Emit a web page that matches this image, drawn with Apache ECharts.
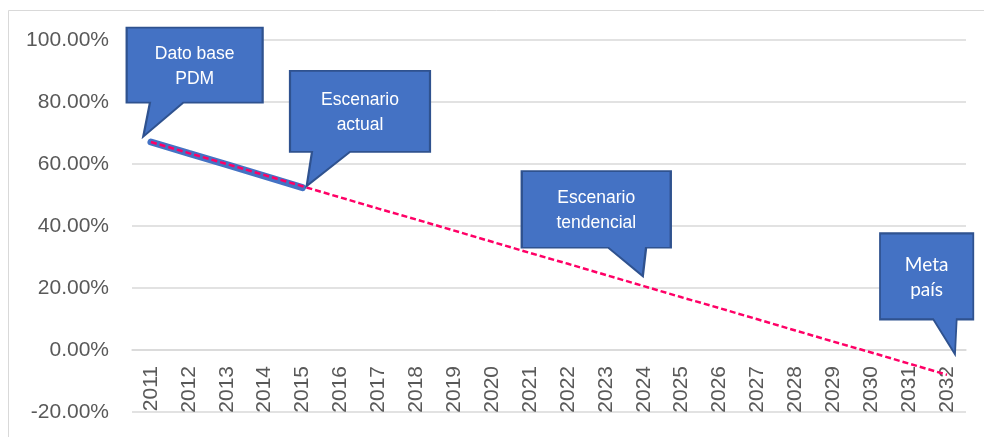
<!DOCTYPE html>
<html>
<head>
<meta charset="utf-8">
<script src="https://cdn.jsdelivr.net/npm/echarts@6/dist/echarts.min.js"></script>
<style>html,body{margin:0;padding:0;background:#fff}#c{width:984px;height:437px}</style>
</head>
<body>
<div id="c"></div>
<script>
const years = ['2011','2012','2013','2014','2015','2016','2017','2018','2019','2020','2021','2022','2023','2024','2025','2026','2027','2028','2029','2030','2031','2032'];
const actualValues = [67.1, 63.4, 59.8, 56.1, 52.4];
const trendValues = [67.1, 63.5, 60.0, 56.4, 52.8, 49.2, 45.6, 42.1, 38.5, 34.9, 31.3, 27.8, 24.2, 20.6, 17.0, 13.5, 9.9, 6.3, 2.7, -0.8, -4.4, -8.0];
const yTicks = {min: -20, max: 100, interval: 20};
const callouts = [
  {text: 'Dato base\nPDM', year: '2011', value: 67.1},
  {text: 'Escenario\nactual', year: '2015', value: 52.4},
  {text: 'Escenario\ntendencial', year: '2024', value: 20.6},
  {text: 'Meta\npaís', year: '2032', value: 0}
];

// callout shapes (relative to the tail tip) and placement styling
const calloutStyles = [
  {path: 'path://M-16.6,-109L119.4,-109L119.4,-34L40,-34L0,0L6.7,-34L-16.6,-34Z', size: [136,109], offset: [43.7,-59.9], labelOffset: [0,-15], font: 'Liberation Sans', fs: 17.5},
  {path: 'path://M-16.7,-115L123.3,-115L123.3,-34L43.3,-34L0,0L5.3,-34L-16.7,-34Z', size: [140,115], offset: [57.4,-59.1], labelOffset: [0,-16], font: 'Liberation Sans', fs: 17.5},
  {path: 'path://M-121,-105L28,-105L28,-28.4L3.3,-28.4L0,0L-34.4,-28.4L-121,-28.4Z', size: [149,105], offset: [-47.5,-62.5], labelOffset: [0,-13], font: 'Liberation Sans', fs: 17.5},
  {path: 'path://M-75,-121L18.3,-121L18.3,-35L1.7,-35L0,0L-21.7,-35L-75,-35Z', size: [93.3,121], offset: [-20.4,-56.2], labelOffset: [0,-16], font: 'Lato', fs: 19}
];

const chart = echarts.init(document.getElementById('c'), null, {renderer: 'canvas'});
chart.setOption({
  animation: false,
  backgroundColor: '#fff',
  graphic: [{
    type: 'rect', silent: true, z: -10,
    shape: {x: 8.5, y: 10.5, width: 1200, height: 600},
    style: {fill: 'none', stroke: '#D9D9D9', lineWidth: 1}
  }],
  grid: {left: 132, right: 18, top: 40, bottom: 25, containLabel: false, outerBoundsMode: 'none'},
  xAxis: {
    type: 'category',
    data: years,
    boundaryGap: true,
    position: 'bottom',
    offset: 0,
    axisLine: {onZero: false, lineStyle: {color: '#D9D9D9', width: 1.5}},
    axisTick: {show: false},
    axisLabel: {rotate: 90, margin: 16, color: '#595959', fontFamily: 'Liberation Sans', fontSize: 21, interval: 0},
    splitLine: {show: false}
  },
  yAxis: {
    type: 'value',
    min: yTicks.min, max: yTicks.max, interval: yTicks.interval,
    axisLine: {show: false},
    axisTick: {show: false},
    axisLabel: {margin: 23, color: '#595959', fontFamily: 'Liberation Sans', fontSize: 21,
      formatter: v => v.toFixed(2) + '%'},
    splitLine: {lineStyle: {color: '#D9D9D9', width: 1.5}}
  },
  series: [
    {
      name: 'Escenario actual',
      type: 'line',
      data: actualValues,
      symbol: 'none',
      lineStyle: {color: '#4472C4', width: 7, cap: 'round'},
      z: 2
    },
    {
      name: 'Escenario tendencial',
      type: 'line',
      data: trendValues,
      symbol: 'none',
      lineStyle: {color: '#FF0066', width: 2.5, type: [6, 3]},
      z: 3,
      markPoint: {
        silent: true,
        data: callouts.map((c, i) => ({
          coord: [c.year, c.value],
          symbol: calloutStyles[i].path,
          symbolSize: calloutStyles[i].size,
          symbolOffset: calloutStyles[i].offset,
          symbolKeepAspect: false,
          itemStyle: {color: '#4472C4', borderColor: '#2F528F', borderWidth: 2},
          label: {
            show: true, position: 'inside', formatter: c.text,
            offset: calloutStyles[i].labelOffset,
            color: '#fff', fontFamily: calloutStyles[i].font, fontSize: calloutStyles[i].fs,
            lineHeight: 25, align: 'center'
          }
        }))
      }
    }
  ]
});
// place the category axis on the zero line of the value axis
const zeroY = chart.convertToPixel({yAxisIndex: 0}, 0);
const bottomY = chart.convertToPixel({yAxisIndex: 0}, yTicks.min);
chart.setOption({xAxis: {offset: zeroY - bottomY}});
</script>
</body>
</html>
